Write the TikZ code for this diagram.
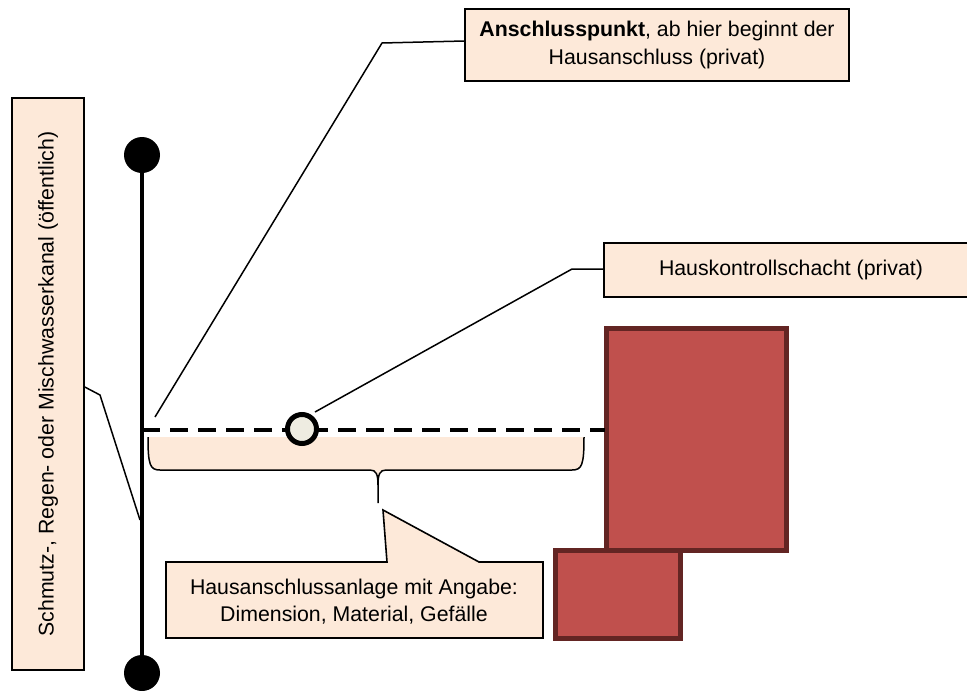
\documentclass[tikz,border=0pt]{standalone}
\usepackage{fontspec}
\setmainfont{Liberation Sans}
\definecolor{peach}{HTML}{FDE9D9}
\definecolor{brick}{HTML}{C0504D}
\definecolor{brickdark}{HTML}{632523}
\definecolor{holefill}{HTML}{EEECE1}
\begin{document}
\begin{tikzpicture}[x=1pt,y=-1pt,
  lbl/.style={draw=black,line width=1.6pt,fill=peach,inner sep=0pt,align=center,
    font=\fontsize{21.3}{28}\selectfont},
  callout/.style={draw=black,line width=1.5pt},
  pipe/.style={line width=4pt},
  house/.style={draw=brickdark,fill=brick,line width=5pt}]
\useasboundingbox (0,0) rectangle (967,691);
% pipe (public sewer)
\node[circle,fill=black,minimum size=36pt,inner sep=0pt] (dtop) at (142,155) {};
\node[circle,fill=black,minimum size=36pt,inner sep=0pt] (dbot) at (142,673) {};
\draw[pipe] (dtop.center) -- (dbot.center);
% houses
\draw[house] (606.5,328.5) rectangle (786.5,550.5);
\draw[house] (555.5,550.5) rectangle (680.5,638.5);
% brace
\fill[peach] (148,437) .. controls (148,465) and (150,470) .. (160,470) -- (370,470)
  .. controls (376,470) and (378,474) .. (378,485)
  .. controls (378,474) and (380,470) .. (386,470) -- (572,470)
  .. controls (582,470) and (584,465) .. (584,437) -- cycle;
\draw[line width=1.5pt] (148,437) .. controls (148,465) and (150,470) .. (160,470) -- (370,470)
  .. controls (376,470) and (378,474) .. (378,485) -- (378,503);
\draw[line width=1.5pt] (584,437) .. controls (584,465) and (582,470) .. (572,470) -- (386,470)
  .. controls (380,470) and (378,474) .. (378,485);
% house connection dashed
\coordinate (pj) at (142,430);
\coordinate (hw) at (605,430);
\draw[line width=4pt,dash pattern=on 18pt off 10pt] (pj) -- (hw);
\node[circle,draw=black,line width=5pt,fill=holefill,minimum size=29pt,inner sep=0pt] (hole) at (302,429) {};
% labels
\node[lbl,minimum width=384pt,minimum height=72pt] (top) at (657,45)
  {\textbf{Anschlusspunkt}, ab hier beginnt der\\Hausanschluss (privat)};
\node[lbl,minimum width=374pt,minimum height=54pt] (hks) at (791,270) {Hauskontrollschacht (privat)};
\node[lbl,rotate=90,minimum width=572pt,minimum height=72pt] (kanal) at (48,384)
  {Schmutz-, Regen- oder Mischwasserkanal (öffentlich)};
% bottom callout
\draw[lbl] (166,562) -- (387,562) -- (383,510) -- (479,562) -- (543,562) -- (543,638) -- (166,638) -- cycle;
\node[align=center,font=\fontsize{21.3}{27}\selectfont,inner sep=0pt] (hal) at (354,602)
  {Hausanschlussanlage mit Angabe:\\Dimension, Material, Gefälle};
% callout lines
\coordinate (ap) at (155,417);
\coordinate (apk) at (382,43);
\draw[callout] (ap) -- (apk) -- (top.west |- 0,41);
\coordinate (hk1) at (315,412);
\coordinate (hk2) at (572,269);
\draw[callout] (hk1) -- (hk2) -- (hks.west |- hk2);
\coordinate (kk1) at (100,395);
\coordinate (kk2) at (140,520);
\draw[callout] (kanal.south |- 0,387) -- (kk1) -- (kk2);
\end{tikzpicture}
\end{document}
